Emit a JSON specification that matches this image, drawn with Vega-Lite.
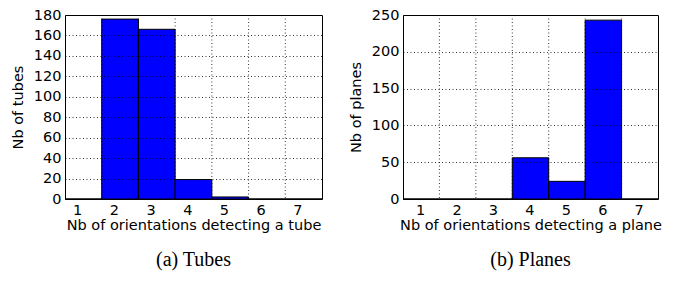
{
  "$schema": "https://vega.github.io/schema/vega-lite/v6.json",
  "background": "white",
  "padding": {"left": 9, "top": 6, "right": 5, "bottom": 5},
  "spacing": 24,
  "config": {
    "view": {"stroke": "black", "strokeWidth": 1},
    "axis": {"labelFont": "DejaVu Sans", "titleFont": "DejaVu Sans", "labelFontSize": 14.5, "titleFontSize": 14.5, "titleFontWeight": "normal", "labelColor": "black", "titleColor": "black", "domain": false, "ticks": false},
    "title": {"font": "Liberation Serif", "fontSize": 20, "fontWeight": "normal", "color": "black"}
  },
  "datasets": {
    "tubes": [
      {"bin_start": 0.67, "bin_end": 1.67, "count": 0},
      {"bin_start": 1.67, "bin_end": 2.67, "count": 176},
      {"bin_start": 2.67, "bin_end": 3.67, "count": 166},
      {"bin_start": 3.67, "bin_end": 4.67, "count": 19},
      {"bin_start": 4.67, "bin_end": 5.67, "count": 2},
      {"bin_start": 5.67, "bin_end": 6.67, "count": 0},
      {"bin_start": 6.67, "bin_end": 7.67, "count": 0}
    ],
    "tube_edges": [
      {"edge": 1.67}, {"edge": 2.67}, {"edge": 3.67}, {"edge": 4.67}, {"edge": 5.67}, {"edge": 6.67}
    ],
    "planes": [
      {"bin_start": 0.53, "bin_end": 1.53, "count": 0},
      {"bin_start": 1.53, "bin_end": 2.53, "count": 0},
      {"bin_start": 2.53, "bin_end": 3.53, "count": 0},
      {"bin_start": 3.53, "bin_end": 4.53, "count": 56},
      {"bin_start": 4.53, "bin_end": 5.53, "count": 24},
      {"bin_start": 5.53, "bin_end": 6.53, "count": 243},
      {"bin_start": 6.53, "bin_end": 7.53, "count": 0}
    ],
    "plane_edges": [
      {"edge": 1.53}, {"edge": 2.53}, {"edge": 3.53}, {"edge": 4.53}, {"edge": 5.53}, {"edge": 6.53}
    ]
  },
  "hconcat": [
    {
      "width": 257,
      "height": 184,
      "title": {"text": "(a) Tubes", "orient": "bottom", "offset": 18},
      "layer": [
        {
          "data": {"name": "tubes"},
          "mark": {"type": "rect", "fill": "#0000ff", "stroke": "black", "strokeWidth": 1},
          "encoding": {
            "x": {"field": "bin_start", "type": "quantitative", "scale": {"domain": [0.67, 7.67], "nice": false, "zero": false},
                  "axis": {"values": [1, 2, 3, 4, 5, 6, 7], "grid": false, "title": "Nb of orientations detecting a tube", "labelPadding": 4, "titlePadding": 2}},
            "x2": {"field": "bin_end"},
            "y": {"field": "count", "type": "quantitative", "scale": {"domain": [0, 180], "nice": false},
                  "axis": {"values": [0, 20, 40, 60, 80, 100, 120, 140, 160, 180], "grid": true, "gridColor": "black", "gridDash": [1, 2.5], "gridWidth": 0.8, "gridOpacity": 1, "zindex": 1, "title": "Nb of tubes", "labelPadding": 4, "titlePadding": 8}},
            "y2": {"datum": 0}
          }
        },
        {
          "data": {"name": "tube_edges"},
          "mark": {"type": "rule", "color": "black", "strokeDash": [1, 2.5], "strokeWidth": 0.8},
          "encoding": {"x": {"field": "edge", "type": "quantitative"}}
        }
      ]
    },
    {
      "width": 255,
      "height": 184,
      "title": {"text": "(b) Planes", "orient": "bottom", "offset": 18},
      "layer": [
        {
          "data": {"name": "planes"},
          "mark": {"type": "rect", "fill": "#0000ff", "stroke": "black", "strokeWidth": 1},
          "encoding": {
            "x": {"field": "bin_start", "type": "quantitative", "scale": {"domain": [0.53, 7.53], "nice": false, "zero": false},
                  "axis": {"values": [1, 2, 3, 4, 5, 6, 7], "grid": false, "title": "Nb of orientations detecting a plane", "labelPadding": 4, "titlePadding": 2}},
            "x2": {"field": "bin_end"},
            "y": {"field": "count", "type": "quantitative", "scale": {"domain": [0, 250], "nice": false},
                  "axis": {"values": [0, 50, 100, 150, 200, 250], "grid": true, "gridColor": "black", "gridDash": [1, 2.5], "gridWidth": 0.8, "gridOpacity": 1, "zindex": 1, "title": "Nb of planes", "labelPadding": 4, "titlePadding": 8}},
            "y2": {"datum": 0}
          }
        },
        {
          "data": {"name": "plane_edges"},
          "mark": {"type": "rule", "color": "black", "strokeDash": [1, 2.5], "strokeWidth": 0.8},
          "encoding": {"x": {"field": "edge", "type": "quantitative"}}
        }
      ]
    }
  ]
}
